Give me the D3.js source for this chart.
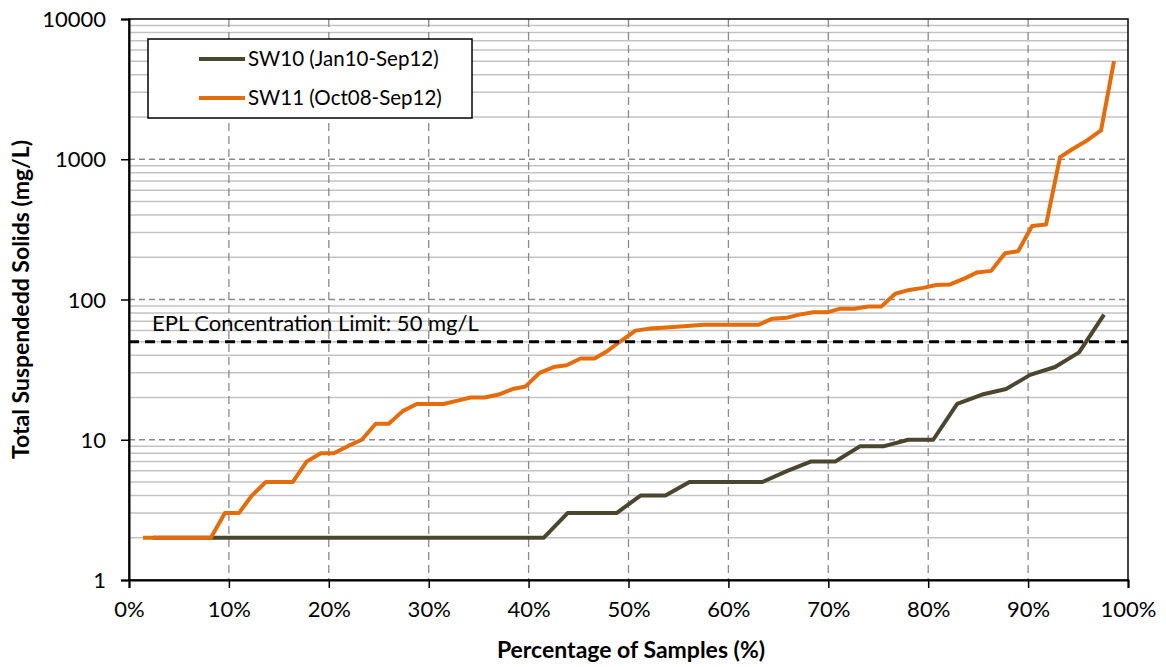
<!DOCTYPE html>
<html>
<head>
<meta charset="utf-8">
<script src="https://cdn.jsdelivr.net/npm/d3@7"></script>
<style>
  html, body { margin: 0; padding: 0; background: #fff; }
  svg text { font-family: Lato, "Open Sans", sans-serif; fill: #000; }
</style>
</head>
<body>
<svg id="chart" width="1166" height="667"></svg>
<script>
// Percentage of samples (plotting position) and TSS concentration, mg/L
const sw10Pct = [2.4, 4.9, 7.3, 9.8, 12.2, 14.6, 17.1, 19.5, 22.0, 24.4, 26.8, 29.3, 31.7, 34.1,
  36.6, 39.0, 41.5, 43.9, 46.3, 48.8, 51.2, 53.7, 56.1, 58.5, 61.0, 63.4, 65.9, 68.3, 70.7, 73.2,
  75.6, 78.0, 80.5, 82.9, 85.4, 87.8, 90.2, 92.7, 95.1, 97.6];
const sw10Tss = [2, 2, 2, 2, 2, 2, 2, 2, 2, 2, 2, 2, 2, 2, 2, 2, 2, 3, 3, 3, 4, 4, 5, 5, 5, 5, 6,
  7, 7, 9, 9, 10, 10, 18, 21, 23, 29, 33, 42, 78];

const sw11Pct = [1.4, 2.7, 4.1, 5.5, 6.8, 8.2, 9.6, 11.0, 12.3, 13.7, 15.1, 16.4, 17.8, 19.2, 20.5,
  21.9, 23.3, 24.7, 26.0, 27.4, 28.8, 30.1, 31.5, 32.9, 34.2, 35.6, 37.0, 38.4, 39.7, 41.1, 42.5,
  43.8, 45.2, 46.6, 47.9, 49.3, 50.7, 52.1, 53.4, 54.8, 56.2, 57.5, 58.9, 60.3, 61.6, 63.0, 64.4,
  65.8, 67.1, 68.5, 69.9, 71.2, 72.6, 74.0, 75.3, 76.7, 78.1, 79.5, 80.8, 82.2, 83.6, 84.9, 86.3,
  87.7, 89.0, 90.4, 91.8, 93.2, 94.5, 95.9, 97.3, 98.6];
const sw11Tss = [2, 2, 2, 2, 2, 2, 3, 3, 4, 5, 5, 5, 7, 8, 8, 9, 10, 13, 13, 16, 18, 18, 18, 19, 20,
  20, 21, 23, 24, 30, 33, 34, 38, 38, 43, 51, 60, 62, 63, 64, 65, 66, 66, 66, 66, 66, 73, 74, 78,
  81, 81, 86, 86, 89, 89, 110, 117, 121, 127, 128, 141, 156, 160, 214, 221, 334, 342, 1035, 1188,
  1362, 1604, 5000];

const seriesNames = ["SW10 (Jan10-Sep12)", "SW11 (Oct08-Sep12)"];
const seriesColors = ["#4B4630", "#E46C0A"];

const xTicks = [0, 10, 20, 30, 40, 50, 60, 70, 80, 90, 100];
const yTicks = [1, 10, 100, 1000, 10000];

const eplLimit = 50;
const eplLabel = "EPL Concentration Limit: 50 mg/L";
const xTitle = "Percentage of Samples (%)";
const yTitle = "Total Suspendedd Solids (mg/L)";

// Layout
const plot = { left: 129, right: 1128, top: 19, bottom: 580 };
const svg = d3.select("#chart");

const x = d3.scaleLinear().domain([0, 100]).range([plot.left, plot.right]);
const y = d3.scaleLog().domain([1, 10000]).range([plot.bottom, plot.top]);

// Minor horizontal gridlines (2..9 within each decade)
const minor = [];
for (let d = 1; d < 10000; d *= 10) for (let m = 2; m <= 9; m++) minor.push(d * m);
svg.append("g").selectAll("line").data(minor).join("line")
  .attr("x1", plot.left).attr("x2", plot.right)
  .attr("y1", v => y(v)).attr("y2", v => y(v))
  .attr("stroke", "#c3c3c3").attr("stroke-width", 1.5);

// Major horizontal gridlines (dashed)
svg.append("g").selectAll("line").data(yTicks.slice(1, -1)).join("line")
  .attr("x1", plot.left).attr("x2", plot.right)
  .attr("y1", v => y(v)).attr("y2", v => y(v))
  .attr("stroke", "#8a8a8a").attr("stroke-width", 1.3).attr("stroke-dasharray", "6,4");

// Vertical gridlines (dashed)
svg.append("g").selectAll("line").data(xTicks.slice(1, -1)).join("line")
  .attr("x1", v => x(v)).attr("x2", v => x(v))
  .attr("y1", plot.top).attr("y2", plot.bottom)
  .attr("stroke", "#8a8a8a").attr("stroke-width", 1.3).attr("stroke-dasharray", "8,5");

// Plot frame
svg.append("rect")
  .attr("x", plot.left).attr("y", plot.top)
  .attr("width", plot.right - plot.left).attr("height", plot.bottom - plot.top)
  .attr("fill", "none").attr("stroke", "#000").attr("stroke-width", 1.5);

// Axes
const xAxis = svg.append("g").attr("transform", `translate(0,${plot.bottom})`)
  .call(d3.axisBottom(x).tickValues(xTicks).tickFormat(d => d + "%").tickSizeOuter(0).tickSize(8).tickPadding(13));
const yAxis = svg.append("g").attr("transform", `translate(${plot.left},0)`)
  .call(d3.axisLeft(y).tickValues(yTicks).tickFormat(d3.format("d")).tickSizeOuter(0).tickSize(8).tickPadding(15));
[xAxis, yAxis].forEach(g => {
  g.select(".domain").attr("stroke", "#000").attr("stroke-width", 2);
  g.selectAll(".tick line").attr("stroke", "#000").attr("stroke-width", 1.5);
  g.selectAll(".tick text").attr("font-size", 22).attr("font-family", "Lato, sans-serif").attr("fill", "#000");
});
yAxis.selectAll(".tick text").attr("dy", "0.35em");

// Series lines
const line = d3.line().x(d => x(d[0])).y(d => y(d[1]));
const series = [
  d3.zip(sw10Pct, sw10Tss),
  d3.zip(sw11Pct, sw11Tss)
];
series.forEach((pts, i) => {
  svg.append("path").datum(pts)
    .attr("d", line)
    .attr("fill", "none")
    .attr("stroke", seriesColors[i])
    .attr("stroke-width", 4)
    .attr("stroke-linejoin", "round");
});

// EPL limit line
svg.append("line")
  .attr("x1", plot.left).attr("x2", plot.right)
  .attr("y1", y(eplLimit)).attr("y2", y(eplLimit))
  .attr("stroke", "#000").attr("stroke-width", 3).attr("stroke-dasharray", "10,6");
svg.append("text")
  .attr("x", 152).attr("y", y(eplLimit) - 11)
  .attr("font-size", 22).text(eplLabel);

// Legend
const legend = svg.append("g");
legend.append("rect")
  .attr("x", 148).attr("y", 39).attr("width", 324).attr("height", 79)
  .attr("fill", "#fff").attr("stroke", "#000").attr("stroke-width", 1.5);
seriesNames.forEach((name, i) => {
  const ly = 59 + i * 39;
  legend.append("line")
    .attr("x1", 199).attr("x2", 245).attr("y1", ly).attr("y2", ly)
    .attr("stroke", seriesColors[i]).attr("stroke-width", 4);
  legend.append("text")
    .attr("x", 248).attr("y", ly).attr("dy", "0.35em")
    .attr("font-size", 20.5).text(name);
});

// Axis titles
svg.append("text")
  .attr("x", 631).attr("y", 658)
  .attr("text-anchor", "middle").attr("font-size", 23).attr("font-weight", "bold")
  .text(xTitle);
svg.append("text")
  .attr("transform", `translate(29,${(plot.top + plot.bottom) / 2}) rotate(-90)`)
  .attr("text-anchor", "middle").attr("font-size", 23).attr("font-weight", "bold")
  .text(yTitle);
</script>
</body>
</html>
